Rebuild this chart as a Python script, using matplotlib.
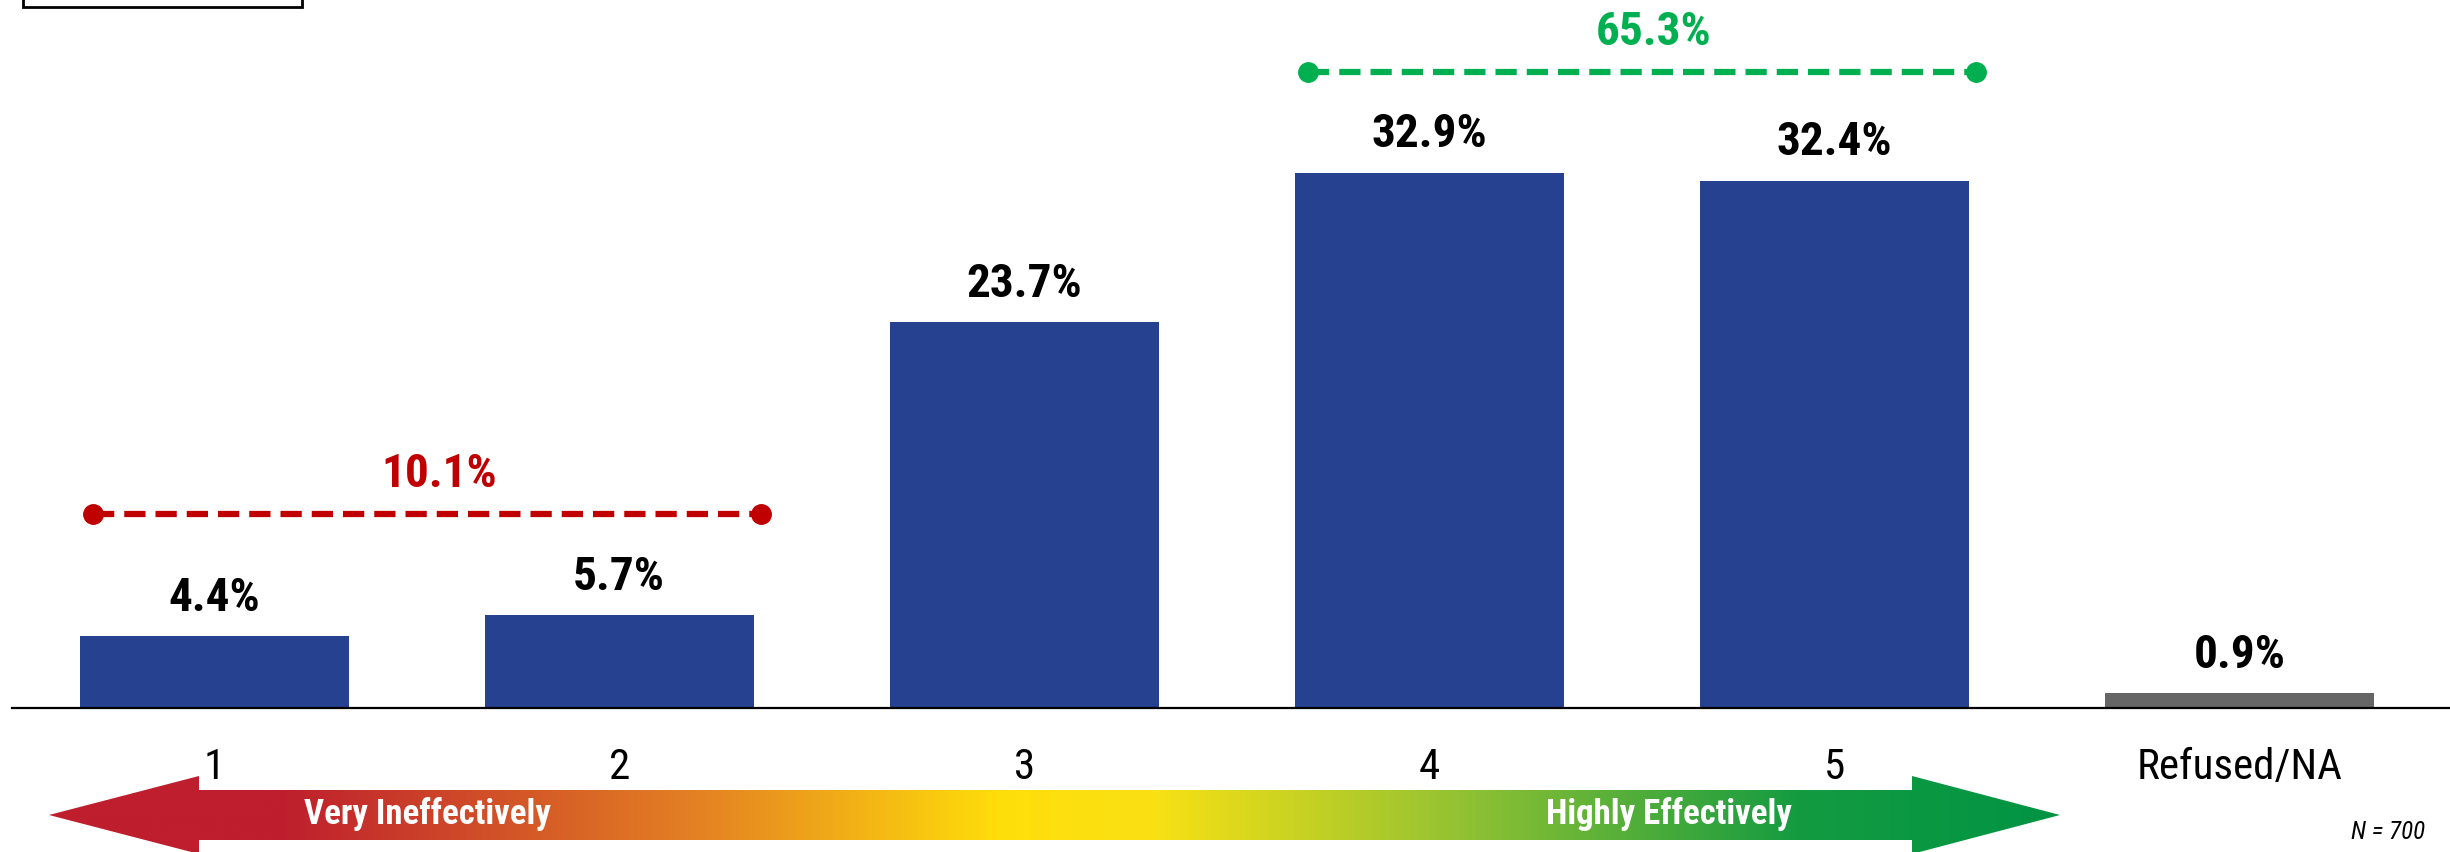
import numpy as np
import matplotlib
matplotlib.use("Agg")
import matplotlib.pyplot as plt
from matplotlib import font_manager
from matplotlib.patches import Polygon, Rectangle

# data
categories = ["1", "2", "3", "4", "5", "Refused/NA"]
values = [4.4, 5.7, 23.7, 32.9, 32.4, 0.9]
bottom_two = 10.1   # 1 + 2
top_two = 65.3      # 4 + 5
n_text = "N = 700"

blue = "#26418f"
grey = "#666666"
red = "#c00000"
green = "#00b050"
bar_colors = [blue] * 5 + [grey]

# narrow font like the original (Arial Narrow)
names = {f.name for f in font_manager.fontManager.ttflist}
narrow = "DejaVu Sans"
for cand in ["Arial Narrow", "Liberation Sans Narrow", "Roboto Condensed",
             "Archivo Narrow", "Fira Sans Condensed"]:
    if cand in names:
        narrow = cand
        break
plt.rcParams["font.family"] = [narrow, "DejaVu Sans"]

W, H = 2450, 852
fig = plt.figure(figsize=(W / 100, H / 100), dpi=100)

# overlay in pixel coordinates (arrow, box, note)
ov = fig.add_axes([0, 0, 1, 1])
ov.set_xlim(0, W)
ov.set_ylim(H, 0)
ov.axis("off")
ov.set_zorder(0)

ax = fig.add_axes([12 / W, 1 - 708 / H, 1 - 12 / W, 708 / H])
ax.set_zorder(1)
ax.patch.set_alpha(0)

x = np.arange(len(categories))
ax.bar(x, values, width=0.664, color=bar_colors)
ax.set_xlim(-0.499, 5.52)
ax.set_ylim(0, 43.5)

for xi, v in zip(x, values):
    ax.annotate(f"{v:.1f}%", (xi, v), xytext=(0, 12), textcoords="offset points",
                ha="center", va="bottom", fontsize=34, fontweight="bold", color="black")

# summary brackets
def summary(i, j, total, color):
    y = max(values[i:j + 1]) + 6.2
    x0, x1 = x[i] - 0.3, x[j] + 0.35
    ax.plot([x0, x1], [y, y], color=color, lw=4.5,
            ls=(0, (3.4, 1.6)), marker="o", markersize=14, solid_capstyle="butt")
    ax.annotate(f"{total:.1f}%", ((x0 + x1) / 2 + 0.03, y), xytext=(0, 13),
                textcoords="offset points", ha="center", va="bottom",
                fontsize=34, fontweight="bold", color=color)

summary(0, 1, bottom_two, red)
summary(3, 4, top_two, green)

for s in ["top", "right", "left"]:
    ax.spines[s].set_visible(False)
ax.spines["bottom"].set_linewidth(1.6)
ax.set_yticks([])
ax.set_xticks(x)
ax.set_xticklabels(categories, fontsize=31)
ax.tick_params(axis="x", length=0, pad=28)

# gradient arrow
cy = 815
arrow = [(49, cy), (199, cy - 39), (199, cy - 25), (1912, cy - 25), (1912, cy - 39),
         (2060, cy), (1912, cy + 39), (1912, cy + 25), (199, cy + 25), (199, cy + 39)]
stops_x = [49, 280, 700, 1000, 1150, 1450, 1800, 2060]
stops_c = np.array([(190, 30, 45), (190, 30, 45), (228, 130, 35), (255, 222, 10),
                    (250, 225, 20), (150, 195, 50), (20, 155, 65), (0, 148, 68)]) / 255
gx = np.linspace(49, 2060, 800)
grad = np.stack([np.interp(gx, stops_x, stops_c[:, k]) for k in range(3)], axis=-1)
img = ov.imshow(grad[np.newaxis, :, :], extent=(49, 2060, cy + 40, cy - 40),
                aspect="auto", interpolation="bilinear")
poly = Polygon(arrow, closed=True, facecolor="none", edgecolor="none")
ov.add_patch(poly)
img.set_clip_path(poly)
ov.set_xlim(0, W)
ov.set_ylim(H, 0)

ov.text(427, 814, "Very Ineffectively", color="white", fontsize=25, fontweight="bold",
        ha="center", va="center")
ov.text(1669, 814, "Highly Effectively", color="white", fontsize=25, fontweight="bold",
        ha="center", va="center")
ov.text(2425, 832, n_text, fontsize=18, style="italic", ha="right", va="center")

# cut-off box at top left
ov.add_patch(Rectangle((23, -20), 279, 27, facecolor="white", edgecolor="black", lw=2))

fig.savefig("out.png", dpi=100)
